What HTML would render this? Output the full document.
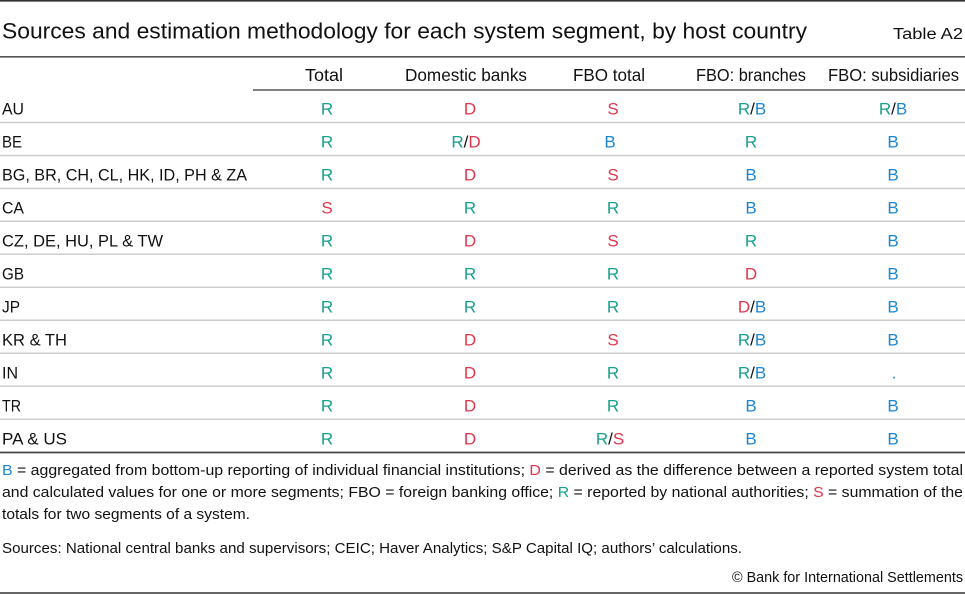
<!DOCTYPE html>
<html><head><meta charset="utf-8"><style>
html,body{margin:0;padding:0;background:#fff;}
svg{display:block;}
text{font-family:"Liberation Sans",sans-serif;fill:#111;}
.r{fill:#17a08e;} .d{fill:#e0364c;} .b{fill:#1d86d2;}
</style></head><body>
<svg width="965" height="594" viewBox="0 0 965 594" xmlns="http://www.w3.org/2000/svg">
<rect x="0" y="0" width="965" height="594" fill="#fff"/>
<line x1="0" y1="0.8" x2="965" y2="0.8" stroke="#333" stroke-width="1.6"/>
<text x="2" y="38.5" font-size="22" textLength="805" lengthAdjust="spacingAndGlyphs">Sources and estimation methodology for each system segment, by host country</text>
<text x="893" y="39" font-size="15.5" textLength="70" lengthAdjust="spacingAndGlyphs">Table A2</text>
<line x1="0" y1="56.8" x2="965" y2="56.8" stroke="#555" stroke-width="1.6"/>
<!-- headers -->
<g font-size="17.5">
<text x="305" y="81" textLength="38" lengthAdjust="spacingAndGlyphs">Total</text>
<text x="405" y="81" textLength="122" lengthAdjust="spacingAndGlyphs">Domestic banks</text>
<text x="573" y="81" textLength="72" lengthAdjust="spacingAndGlyphs">FBO total</text>
<text x="696" y="81" textLength="110" lengthAdjust="spacingAndGlyphs">FBO: branches</text>
<text x="828" y="81" textLength="131" lengthAdjust="spacingAndGlyphs">FBO: subsidiaries</text>
</g>
<line x1="253" y1="90" x2="965" y2="90" stroke="#555" stroke-width="1.6"/>
<!-- row separators -->
<g stroke="#cdcdcd" stroke-width="1.5">
<line x1="0" y1="122.5" x2="965" y2="122.5"/>
<line x1="0" y1="155.5" x2="965" y2="155.5"/>
<line x1="0" y1="188.5" x2="965" y2="188.5"/>
<line x1="0" y1="221.3" x2="965" y2="221.3"/>
<line x1="0" y1="254.2" x2="965" y2="254.2"/>
<line x1="0" y1="287.2" x2="965" y2="287.2"/>
<line x1="0" y1="320.2" x2="965" y2="320.2"/>
<line x1="0" y1="353.2" x2="965" y2="353.2"/>
<line x1="0" y1="386.2" x2="965" y2="386.2"/>
<line x1="0" y1="419.2" x2="965" y2="419.2"/>
</g>
<line x1="0" y1="452.5" x2="965" y2="452.5" stroke="#444" stroke-width="1.8"/>
<!-- row labels -->
<g font-size="17">
<text x="2" y="114.5" textLength="22" lengthAdjust="spacingAndGlyphs">AU</text>
<text x="2" y="147.5" textLength="20" lengthAdjust="spacingAndGlyphs">BE</text>
<text x="2" y="180.5" textLength="245" lengthAdjust="spacingAndGlyphs">BG, BR, CH, CL, HK, ID, PH &amp; ZA</text>
<text x="2" y="213.5" textLength="22" lengthAdjust="spacingAndGlyphs">CA</text>
<text x="2" y="246.5" textLength="161" lengthAdjust="spacingAndGlyphs">CZ, DE, HU, PL &amp; TW</text>
<text x="2" y="279.5" textLength="22" lengthAdjust="spacingAndGlyphs">GB</text>
<text x="2" y="312.5" textLength="18" lengthAdjust="spacingAndGlyphs">JP</text>
<text x="2" y="345.5" textLength="65" lengthAdjust="spacingAndGlyphs">KR &amp; TH</text>
<text x="2" y="378.5" textLength="16" lengthAdjust="spacingAndGlyphs">IN</text>
<text x="2" y="411.5" textLength="19" lengthAdjust="spacingAndGlyphs">TR</text>
<text x="2" y="444.5" textLength="65" lengthAdjust="spacingAndGlyphs">PA &amp; US</text>
</g>
<!-- values -->
<g font-size="17" text-anchor="middle">
<!-- AU -->
<text x="327" y="114.5" class="r">R</text>
<text x="470" y="114.5" class="d">D</text>
<text x="613" y="114.5" class="d">S</text>
<text x="752" y="114.5"><tspan class="r">R</tspan>/<tspan class="b">B</tspan></text>
<text x="893" y="114.5"><tspan class="r">R</tspan>/<tspan class="b">B</tspan></text>
<!-- BE -->
<text x="327" y="147.5" class="r">R</text>
<text x="466" y="147.5"><tspan class="r">R</tspan>/<tspan class="d">D</tspan></text>
<text x="610" y="147.5" class="b">B</text>
<text x="751" y="147.5" class="r">R</text>
<text x="893" y="147.5" class="b">B</text>
<!-- BG -->
<text x="327" y="180.5" class="r">R</text>
<text x="470" y="180.5" class="d">D</text>
<text x="613" y="180.5" class="d">S</text>
<text x="751" y="180.5" class="b">B</text>
<text x="893" y="180.5" class="b">B</text>
<!-- CA -->
<text x="327" y="213.5" class="d">S</text>
<text x="470" y="213.5" class="r">R</text>
<text x="613" y="213.5" class="r">R</text>
<text x="751" y="213.5" class="b">B</text>
<text x="893" y="213.5" class="b">B</text>
<!-- CZ -->
<text x="327" y="246.5" class="r">R</text>
<text x="470" y="246.5" class="d">D</text>
<text x="613" y="246.5" class="d">S</text>
<text x="751" y="246.5" class="r">R</text>
<text x="893" y="246.5" class="b">B</text>
<!-- GB -->
<text x="327" y="279.5" class="r">R</text>
<text x="470" y="279.5" class="r">R</text>
<text x="613" y="279.5" class="r">R</text>
<text x="751" y="279.5" class="d">D</text>
<text x="893" y="279.5" class="b">B</text>
<!-- JP -->
<text x="327" y="312.5" class="r">R</text>
<text x="470" y="312.5" class="r">R</text>
<text x="613" y="312.5" class="r">R</text>
<text x="752" y="312.5"><tspan class="d">D</tspan>/<tspan class="b">B</tspan></text>
<text x="893" y="312.5" class="b">B</text>
<!-- KR -->
<text x="327" y="345.5" class="r">R</text>
<text x="470" y="345.5" class="d">D</text>
<text x="613" y="345.5" class="d">S</text>
<text x="752" y="345.5"><tspan class="r">R</tspan>/<tspan class="b">B</tspan></text>
<text x="893" y="345.5" class="b">B</text>
<!-- IN -->
<text x="327" y="378.5" class="r">R</text>
<text x="470" y="378.5" class="d">D</text>
<text x="613" y="378.5" class="r">R</text>
<text x="752" y="378.5"><tspan class="r">R</tspan>/<tspan class="b">B</tspan></text>
<text x="894" y="378.5" class="b">.</text>
<!-- TR -->
<text x="327" y="411.5" class="r">R</text>
<text x="470" y="411.5" class="d">D</text>
<text x="613" y="411.5" class="r">R</text>
<text x="751" y="411.5" class="b">B</text>
<text x="893" y="411.5" class="b">B</text>
<!-- PA -->
<text x="327" y="444.5" class="r">R</text>
<text x="470" y="444.5" class="d">D</text>
<text x="610" y="444.5"><tspan class="r">R</tspan>/<tspan class="d">S</tspan></text>
<text x="751" y="444.5" class="b">B</text>
<text x="893" y="444.5" class="b">B</text>
</g>
<!-- footnotes -->
<g font-size="14.5">
<text x="2" y="475" textLength="961" lengthAdjust="spacingAndGlyphs"><tspan class="b">B</tspan> = aggregated from bottom-up reporting of individual financial institutions; <tspan class="d">D</tspan> = derived as the difference between a reported system total</text>
<text x="2" y="497" textLength="961" lengthAdjust="spacingAndGlyphs">and calculated values for one or more segments; FBO = foreign banking office; <tspan class="r">R</tspan> = reported by national authorities;  <tspan class="d">S</tspan> = summation of the</text>
<text x="2" y="519" textLength="248" lengthAdjust="spacingAndGlyphs">totals for two segments of a system.</text>
<text x="2" y="553" textLength="740" lengthAdjust="spacingAndGlyphs">Sources: National central banks and supervisors; CEIC; Haver Analytics; S&amp;P Capital IQ; authors’ calculations.</text>
<text x="732" y="582" textLength="231" lengthAdjust="spacingAndGlyphs">© Bank for International Settlements</text>
</g>
<line x1="0" y1="593" x2="965" y2="593" stroke="#333" stroke-width="1.6"/>
</svg>
</body></html>
